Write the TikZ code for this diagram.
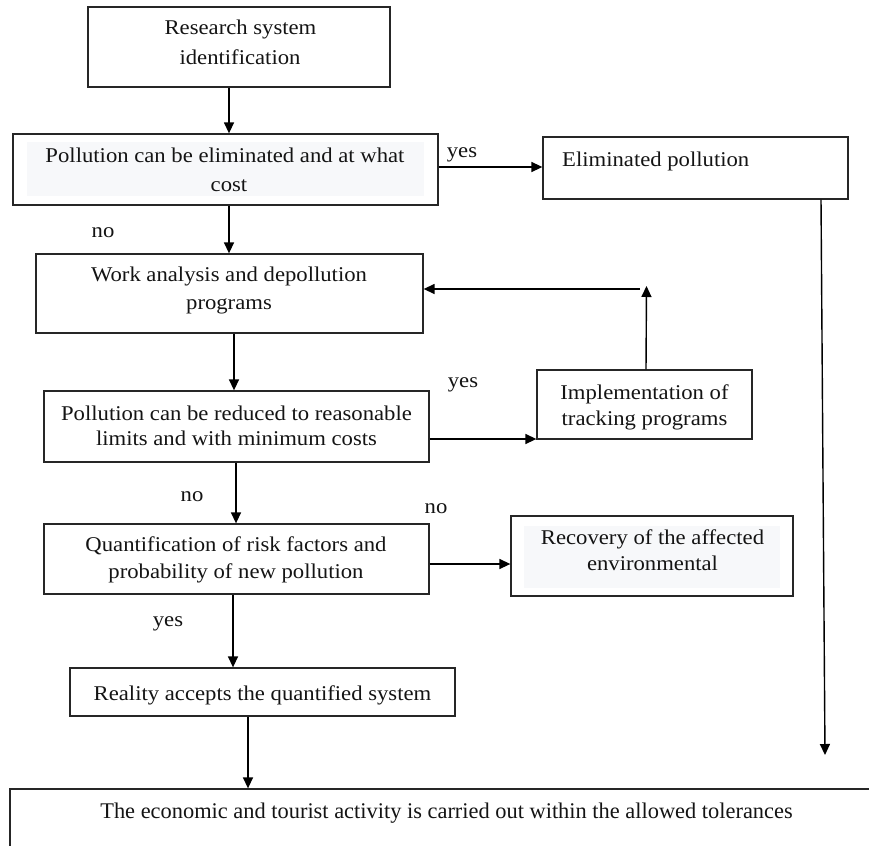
\documentclass[tikz,border=0pt]{standalone}
\usepackage{fontspec}
\setmainfont{Liberation Serif}[FakeStretch=1.08]
\newfontfamily\plainserif{Liberation Serif}
\usetikzlibrary{arrows.meta}
\definecolor{lightfill}{HTML}{F7F8FA}
\tikzset{
  box/.style={draw=black!85, line width=1.3pt, inner sep=0pt},
  txt/.style={font=\fontsize{21}{27}\selectfont, inner sep=0pt, anchor=base, text=black!92},
  lbl/.style={font=\fontsize{21}{27}\selectfont, inner sep=0pt, anchor=base, text=black!92},
  arr/.style={draw=black, line width=1.4pt, -{Triangle[length=11pt,width=10pt]}},
}
\begin{document}
\begin{tikzpicture}[x=1pt,y=-1pt]
\useasboundingbox (0,0) rectangle (869,845);
\fill[white] (0,0) rectangle (869,845);
\clip (0,0) rectangle (869,845);

% light backgrounds behind some texts
\fill[lightfill] (27,142) rectangle (424,196);
\fill[lightfill] (524,526) rectangle (780,588);

% boxes
\node[box, minimum width=302pt, minimum height=80pt] (b1) at (239,47) {};
\node[box, minimum width=425pt, minimum height=71pt] (b2) at (225.5,169.5) {};
\node[box, minimum width=305pt, minimum height=62pt] (b3) at (695.5,168) {};
\node[box, minimum width=387pt, minimum height=79pt] (b4) at (229.5,293.5) {};
\node[box, minimum width=385pt, minimum height=71pt] (b5) at (236.5,426.5) {};
\node[box, minimum width=215pt, minimum height=69pt] (b6) at (644.5,404.5) {};
\node[box, minimum width=385pt, minimum height=70pt] (b7) at (236.5,559) {};
\node[box, minimum width=282pt, minimum height=80pt] (b8) at (652,556) {};
\node[box, minimum width=385pt, minimum height=48pt] (b9) at (262.5,692) {};
\node[box, minimum width=890pt, minimum height=91pt] (b10) at (455,834.5) {};

% texts
\node[txt] (t1a) at (240.5,35) {Research system};
\node[txt] (t1b) at (240,64.3) {identification};
\node[txt] (t2a) at (225,163) {Pollution can be eliminated and at what};
\node[txt] (t2b) at (229,191) {cost};
\node[txt, anchor=base west] (t3) at (562,166.7) {Eliminated pollution};
\node[txt] (t4a) at (229,281.7) {Work analysis and depollution};
\node[txt] (t4b) at (229,309.3) {programs};
\node[txt] (t5a) at (236.5,420) {Pollution can be reduced to reasonable};
\node[txt] (t5b) at (236.5,445) {limits and with minimum costs};
\node[txt] (t6a) at (644.5,399) {Implementation of};
\node[txt] (t6b) at (644.5,425) {tracking programs};
\node[txt] (t7a) at (236,551.7) {Quantification of risk factors and};
\node[txt] (t7b) at (236,578.3) {probability of new pollution};
\node[txt] (t8a) at (652.5,544.3) {Recovery of the affected};
\node[txt] (t8b) at (652.5,570.7) {environmental};
\node[txt] (t9) at (262.5,700) {Reality accepts the quantified system};
\node[txt, font=\plainserif\fontsize{22.4}{27}\selectfont] (t10) at (446.5,818.3) {The economic and tourist activity is carried out within the allowed tolerances};

% labels
\node[lbl] (l1) at (462,157.7) {yes};
\node[lbl] (l2) at (103,237) {no};
\node[lbl] (l3) at (463,387) {yes};
\node[lbl] (l4) at (192,501.7) {no};
\node[lbl] (l5) at (436,513.3) {no};
\node[lbl] (l6) at (168,626.7) {yes};

% free ends
\coordinate (c1) at (646.5,286);
\coordinate (c2) at (640,289);
\coordinate (c3) at (825,755);

% connectors
\draw[arr] ([xshift=-10pt]b1.south) -- ([xshift=-10pt]b1.south |- b2.north);
\draw[arr] ([yshift=2.5pt]b2.east) -- ([yshift=2.5pt]b2.east -| b3.west);
\draw[arr] ([xshift=125.5pt]b3.south) -- (c3);
\draw[arr] ([xshift=3.5pt]b2.south) -- ([xshift=3.5pt]b2.south |- b4.north);
\draw[arr] ([xshift=1.5pt]b6.north) -- (c1);
\draw[arr] (c2) -- (c2 -| b4.east);
\draw[arr] ([xshift=4.5pt]b4.south) -- ([xshift=4.5pt]b4.south |- b5.north);
\draw[arr] ([yshift=-12.5pt]b5.east) -- ([yshift=-12.5pt]b5.east -| b6.west);
\draw[arr] ([xshift=-0.5pt]b5.south) -- ([xshift=-0.5pt]b5.south |- b7.north);
\draw[arr] ([yshift=-5pt]b7.east) -- ([yshift=-5pt]b7.east -| b8.west);
\draw[arr] ([xshift=-3.5pt]b7.south) -- ([xshift=-3.5pt]b7.south |- b9.north);
\draw[arr] ([xshift=-14.5pt]b9.south) -- ([xshift=-14.5pt]b9.south |- b10.north);
\end{tikzpicture}
\end{document}
